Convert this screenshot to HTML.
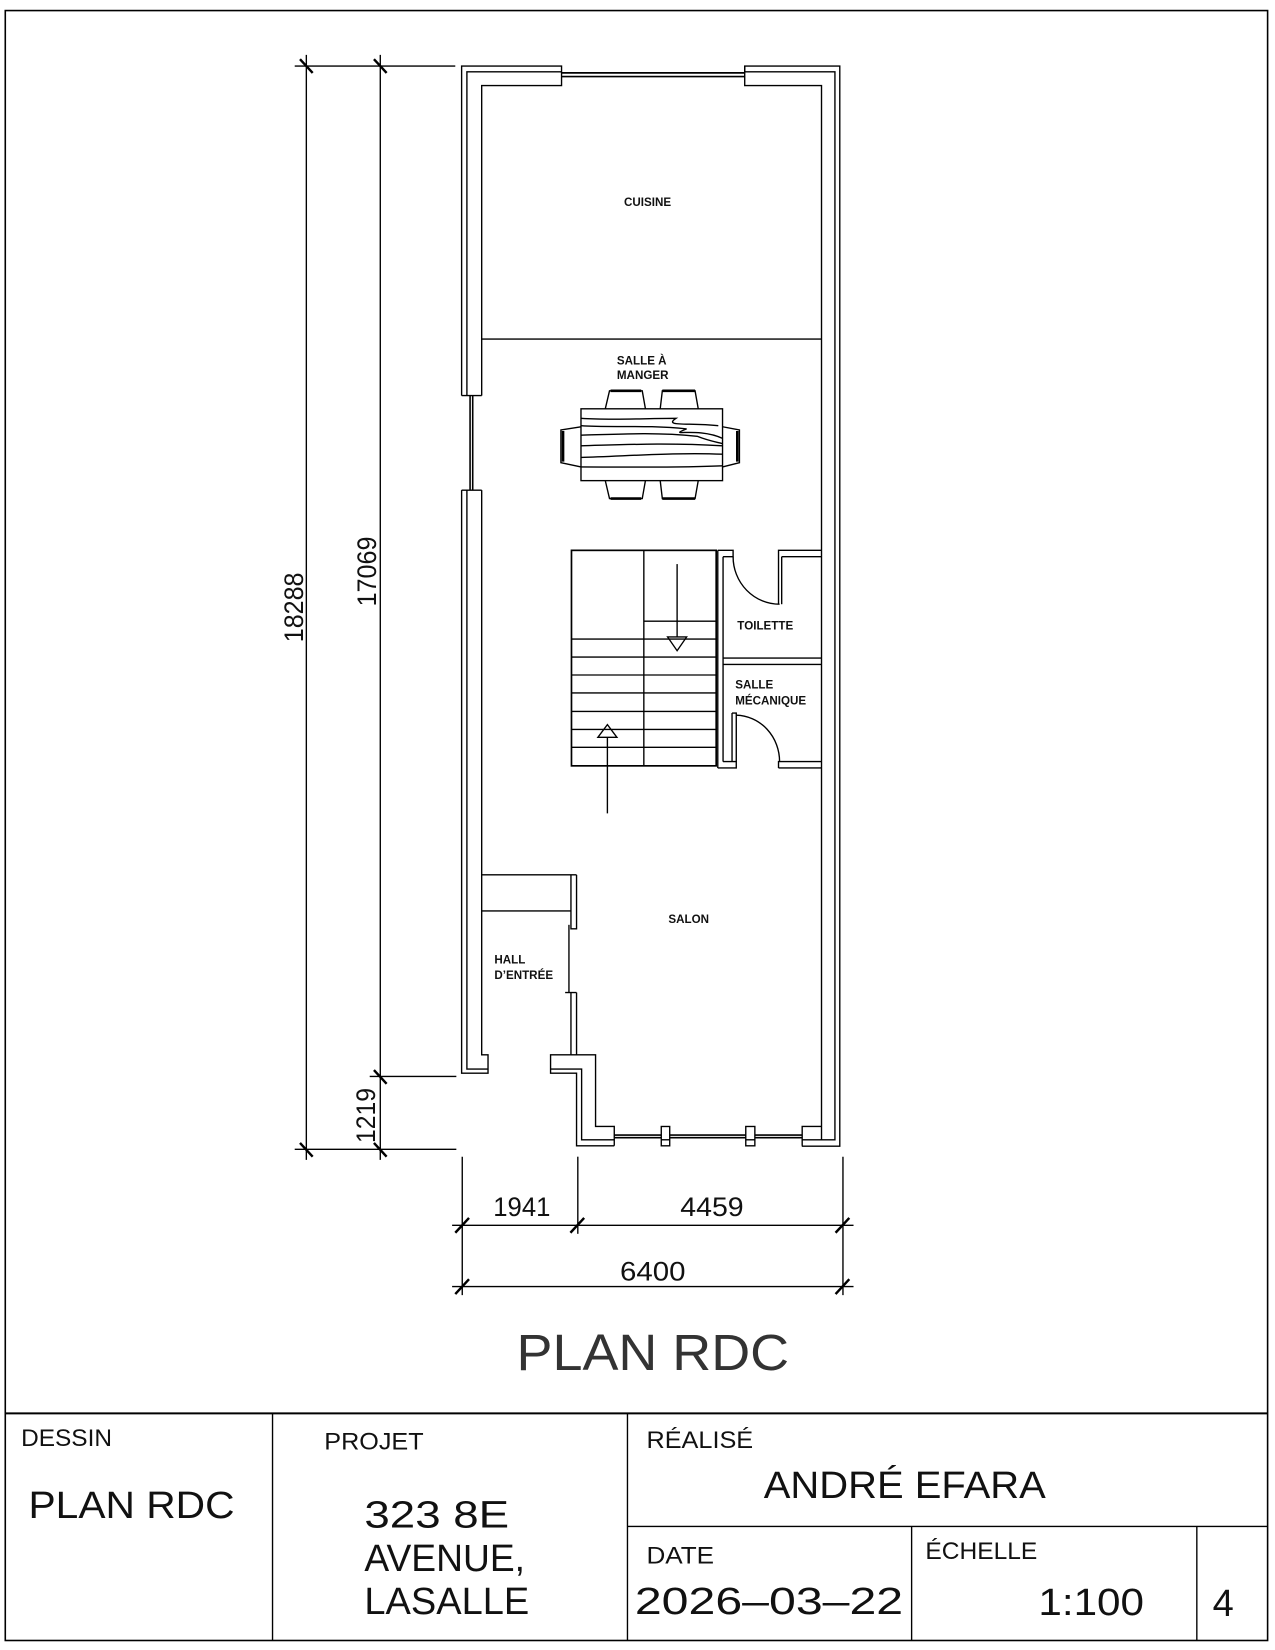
<!DOCTYPE html>
<html><head><meta charset="utf-8"><style>
html,body{margin:0;padding:0;background:#fff;}
svg{display:block;}
text{font-family:"Liberation Sans",sans-serif;fill:#111;}
.lbl{font-size:11px;font-weight:bold;}
.big{fill:#333;}
</style></head><body>
<svg width="1275" height="1650" viewBox="0 0 1207 1562" preserveAspectRatio="none" xmlns="http://www.w3.org/2000/svg">
<g fill="none" stroke="#000" stroke-width="1.3">
<rect x="5" y="10" width="1195" height="1543" stroke-width="1.5"/>
<line x1="5" y1="1338" x2="1200" y2="1338" stroke-width="1.8"/>
<line x1="258" y1="1338" x2="258" y2="1553"/>
<line x1="594" y1="1338" x2="594" y2="1553"/>
<line x1="594" y1="1445" x2="1200" y2="1445"/>
<line x1="863" y1="1445" x2="863" y2="1553"/>
<line x1="1133" y1="1445" x2="1133" y2="1553"/>

<polyline points="437,374.5 437,62.5 531.6,62.5 531.6,81 456,81 456,374.5"/>
<polyline points="442,374.5 442,68 531.6,68"/>
<line x1="437" y1="374.5" x2="456" y2="374.5"/>
<polyline points="705,68 705,62.5 795,62.5 795,1085 759,1085"/>
<polyline points="705,62.5 705,81 777.7,81 777.7,1079"/>
<polyline points="705,68 790.4,68 790.4,1079 759,1079"/>
<line x1="531.6" y1="69" x2="705" y2="69" stroke-width="1.6"/>
<line x1="531.6" y1="72.5" x2="705" y2="72.5" stroke-width="1.6"/>
<line x1="445" y1="374.5" x2="445" y2="464" stroke-width="1.5"/>
<line x1="447.5" y1="374.5" x2="447.5" y2="464" stroke-width="1.5"/>
<polyline points="437,464 456,464"/>
<polyline points="437,464 437,1016 462,1016 462,998.6 456,998.6 456,464"/>
<polyline points="442,464 442,1012 462,1012"/>

<line x1="456" y1="321" x2="777.7" y2="321"/>

<rect x="550" y="387" width="134" height="68"/>
<path d="M573,387 L577,370 L608,370 L611,387 M625,387 L627,370 L658,370 L661,387"/>
<path d="M578,370 H607 M627,370 H658" stroke-width="2.5"/>
<path d="M573,455 L577,472 L608,472 L611,455 M625,455 L627,472 L658,472 L661,455"/>
<path d="M578,472 H607 M627,472 H658" stroke-width="2.5"/>
<path d="M550,404 L531,407 L531,438 L550,442 M684,404 L700,407 L700,438 L684,442"/>
<path d="M533,408 V437 M698,408 V437" stroke-width="2.5"/>
<path d="M550,396 C580,398 610,396 640,396 C628,404 650,400 680,403"/>
<path d="M550,403 C580,405 610,402 650,406 C630,414 660,404 684,415"/>
<path d="M550,412 C585,411 620,409 660,413 C670,417 676,418 684,420"/>
<path d="M550,422 C590,421 630,419 684,422"/>
<path d="M550,433 C590,432 640,428 684,430"/>
<path d="M550,442 C590,442 640,443 684,441"/>

<rect x="541" y="521" width="137" height="204" stroke-width="1.6"/>
<line x1="609.5" y1="521" x2="609.5" y2="725"/>
<line x1="609.5" y1="588" x2="678" y2="588"/>
<line x1="541" y1="605" x2="678" y2="605"/>
<line x1="541" y1="622" x2="678" y2="622"/>
<line x1="541" y1="639" x2="678" y2="639"/>
<line x1="541" y1="656" x2="678" y2="656"/>
<line x1="541" y1="673.5" x2="678" y2="673.5"/>
<line x1="541" y1="690.5" x2="678" y2="690.5"/>
<line x1="541" y1="707.5" x2="678" y2="707.5"/>
<line x1="641" y1="534" x2="641" y2="603"/>
<polygon points="632,603 650,603 641,616"/>
<line x1="575" y1="698" x2="575" y2="770"/>
<polygon points="566,698 584,698 575,686"/>

<line x1="679.5" y1="521" x2="679.5" y2="727"/>
<line x1="684.5" y1="527" x2="684.5" y2="721"/>
<polyline points="679.5,521 694,521 694,527 684.5,527"/>
<polyline points="777.7,521 737,521 737,572"/>
<line x1="740" y1="527" x2="777.7" y2="527"/>
<line x1="740" y1="527" x2="740" y2="572"/>
<path d="M694,527 A44,45 0 0 0 738,572"/>
<line x1="684.5" y1="623" x2="777.7" y2="623"/>
<line x1="684.5" y1="629" x2="777.7" y2="629"/>
<polyline points="693,675 697,675 697,721"/>
<line x1="693" y1="675" x2="693" y2="721"/>
<path d="M697,677 A42,44 0 0 1 738,721"/>
<polyline points="679.5,727 697,727 697,721 684.5,721"/>
<polyline points="737,727 737,721 777.7,721"/>
<line x1="737" y1="727" x2="777.7" y2="727"/>

<line x1="456" y1="828.2" x2="545.8" y2="828.2"/>
<line x1="456" y1="862.3" x2="540.5" y2="862.3"/>
<polyline points="540.5,828.2 540.5,879.3 545.8,879.3 545.8,828.2"/>
<line x1="538.6" y1="875.5" x2="538.6" y2="939.6"/>
<line x1="535" y1="939.6" x2="545.8" y2="939.6"/>
<line x1="540.5" y1="939.6" x2="540.5" y2="998.6"/>
<line x1="545.8" y1="939.6" x2="545.8" y2="998.6"/>
<polyline points="540.5,998.6 521.2,998.6 521.2,1016 545.8,1016 545.8,1084.7 581.5,1084.7"/>
<polyline points="540.5,998.6 563.8,998.6 563.8,1066.4 581.5,1066.4 581.5,1084.7"/>
<polyline points="521.2,1012 550.6,1012 550.6,1079 581.5,1079"/>
<line x1="581.5" y1="1074.5" x2="759.4" y2="1074.5" stroke-width="1.6"/>
<line x1="581.5" y1="1077" x2="759.4" y2="1077" stroke-width="1.6"/>
<rect x="626" y="1066.4" width="8" height="18.3" fill="#fff"/>
<line x1="626" y1="1079" x2="634" y2="1079"/>
<rect x="706" y="1066.4" width="8.6" height="18.3" fill="#fff"/>
<line x1="706" y1="1079" x2="714.6" y2="1079"/>
<polyline points="759.4,1084.7 759.4,1066.4 777.7,1066.4"/>

<line x1="290" y1="52" x2="290" y2="1098"/>
<line x1="360" y1="52" x2="360" y2="1098"/>
<line x1="279" y1="62.5" x2="431" y2="62.5"/>
<line x1="350" y1="1019" x2="432" y2="1019"/>
<line x1="279" y1="1088" x2="432" y2="1088"/>
<g stroke-width="2.3">
<line x1="284" y1="56" x2="296" y2="69"/>
<line x1="354" y1="56" x2="366" y2="69"/>
<line x1="354" y1="1013" x2="366" y2="1026"/>
<line x1="284" y1="1082" x2="296" y2="1095"/>
<line x1="354" y1="1082" x2="366" y2="1095"/>
</g>
<line x1="437.6" y1="1095" x2="437.6" y2="1226"/>
<line x1="547" y1="1095" x2="547" y2="1168"/>
<line x1="798" y1="1095" x2="798" y2="1226"/>
<line x1="428" y1="1160" x2="808" y2="1160"/>
<line x1="428" y1="1218" x2="808" y2="1218"/>
<g stroke-width="2.3">
<line x1="431" y1="1167" x2="444" y2="1153"/>
<line x1="540" y1="1167" x2="553" y2="1153"/>
<line x1="791" y1="1167" x2="804" y2="1153"/>
<line x1="431" y1="1225" x2="444" y2="1211"/>
<line x1="791" y1="1225" x2="804" y2="1211"/>
</g>
</g>

<text class="lbl" x="613" y="195" text-anchor="middle">CUISINE</text>
<text class="lbl" x="584" y="345">SALLE  À</text>
<text class="lbl" x="584" y="359">MANGER</text>
<text class="lbl" x="698" y="596">TOILETTE</text>
<text class="lbl" x="696" y="652">SALLE</text>
<text class="lbl" x="696" y="667">MÉCANIQUE</text>
<text class="lbl" x="652" y="874" text-anchor="middle">SALON</text>
<text class="lbl" x="468" y="912">HALL</text>
<text class="lbl" x="468" y="927">D’ENTRÉE</text>

<g class="big" font-size="25">
<text transform="translate(287,575) rotate(-90)" text-anchor="middle" textLength="66" lengthAdjust="spacingAndGlyphs">18288</text>
<text transform="translate(356,541) rotate(-90)" text-anchor="middle" textLength="66" lengthAdjust="spacingAndGlyphs">17069</text>
<text transform="translate(355,1056) rotate(-90)" text-anchor="middle" textLength="52" lengthAdjust="spacingAndGlyphs">1219</text>
<text x="494" y="1151" text-anchor="middle" textLength="54" lengthAdjust="spacingAndGlyphs">1941</text>
<text x="674" y="1151" text-anchor="middle" textLength="60" lengthAdjust="spacingAndGlyphs">4459</text>
<text x="618" y="1212" text-anchor="middle" textLength="62" lengthAdjust="spacingAndGlyphs">6400</text>
</g>
<text class="big" x="618" y="1297" font-size="48" text-anchor="middle" textLength="258" lengthAdjust="spacingAndGlyphs">PLAN RDC</text>

<g class="big">
<text x="20" y="1369" font-size="23" textLength="86" lengthAdjust="spacingAndGlyphs">DESSIN</text>
<text x="27" y="1437" font-size="36" textLength="195" lengthAdjust="spacingAndGlyphs">PLAN RDC</text>
<text x="307" y="1372" font-size="23" textLength="94" lengthAdjust="spacingAndGlyphs">PROJET</text>
<text x="345" y="1446" font-size="36" textLength="137" lengthAdjust="spacingAndGlyphs">323 8E</text>
<text x="345" y="1487" font-size="36" textLength="152" lengthAdjust="spacingAndGlyphs">AVENUE,</text>
<text x="345" y="1528" font-size="36" textLength="156" lengthAdjust="spacingAndGlyphs">LASALLE</text>
<text x="612" y="1371" font-size="23" textLength="101" lengthAdjust="spacingAndGlyphs">RÉALISÉ</text>
<text x="723" y="1418" font-size="36" textLength="267" lengthAdjust="spacingAndGlyphs">ANDRÉ EFARA</text>
<text x="612" y="1480" font-size="23" textLength="64" lengthAdjust="spacingAndGlyphs">DATE</text>
<text x="601" y="1528" font-size="36" textLength="254" lengthAdjust="spacingAndGlyphs">2026–03–22</text>
<text x="876" y="1476" font-size="23" textLength="106" lengthAdjust="spacingAndGlyphs">ÉCHELLE</text>
<text x="983" y="1529" font-size="36" textLength="100" lengthAdjust="spacingAndGlyphs">1:100</text>
<text x="1148" y="1530" font-size="36">4</text>
</g>
</svg>
</body></html>
